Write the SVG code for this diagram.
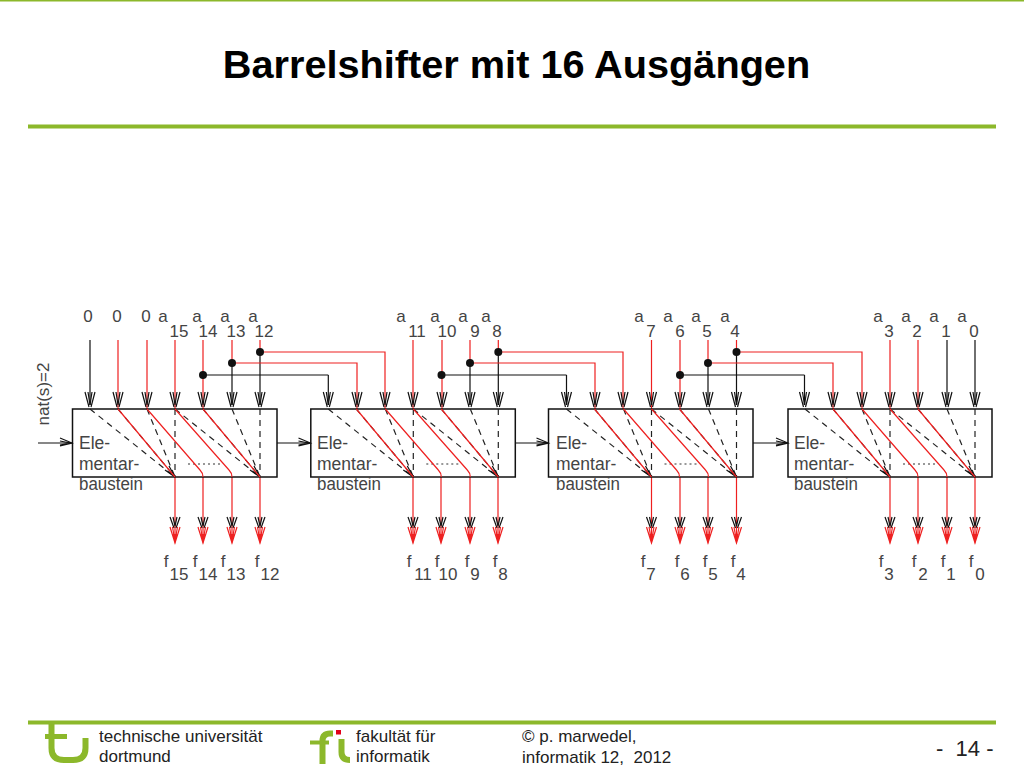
<svg xmlns="http://www.w3.org/2000/svg" width="1024" height="768" viewBox="0 0 1024 768">
<style>
text{font-family:"Liberation Sans",Arial,sans-serif}
.t{font-size:17px;fill:#444}
.m{text-anchor:middle}
.b{font-size:17.5px;fill:#444}
.fo{font-size:17px;fill:#222}
.box{fill:none;stroke:#111;stroke-width:1.5}
.r{fill:none;stroke:#ee2020;stroke-width:1.2}
.k{fill:none;stroke:#111;stroke-width:1.2}
.d{fill:none;stroke:#222;stroke-width:1.2;stroke-dasharray:6 5}
.o{fill:none;stroke:#333;stroke-width:1.2;stroke-dasharray:2 3}
.g{fill:none;stroke:#8cb82b}
</style>
<defs>
<g id="inK"><path class="k" d="M-5,392 L-1,407 M5,392 L1,407 M-2,392 L0,405 L2,392"/></g>
<g id="out"><path class="k" d="M-5,517 L-1,528 M5,517 L1,528 M-2,517 L0,526 L2,517"/><path class="r" d="M-5,527 L0,543 L5,527 M-2.500,527 L0,541 L2.500,527"/><path d="M-2,534 L0,544 L2,534z" fill="#ee2020"/></g>
<g id="hin"><path class="k" d="M-12,438 L0,443 L-12,446 M-12,441 L-2,443 L-12,445"/></g>
<g id="core">
<path class="d" d="M90,409 L175,477 M118,409 L175,477 M147,409 L175,477 M175,409 V477 M175,409 L260,477 M203,409 L260,477 M232,409 L260,477 M260,409 V477"/>
<path class="o" d="M188,464 H220"/>
<path class="k" d="M165,470 L175,477 L169,466 M250,470 L260,477 L254,466"/>
<path class="r" d="M118,409 L175,477 M147,409 L200,470 Q203,473 203,477 M175,409 L229,470 Q232,473 232,477 M203,409 L260,477"/>
</g>
</defs>

<rect x="0" y="0" width="1024" height="1.5" fill="#8cb82b"/>
<text x="516.5" y="78" text-anchor="middle" font-size="39.700" font-weight="bold" fill="#000">Barrelshifter mit 16 Ausgängen</text>
<rect x="28" y="124.500" width="968" height="4" fill="#8cb82b"/>

<g id="connectors">
<path class="k" d="M90,340 V405 M328.300,375 V405 M566.500,375 V405 M804.500,375 V405 M947,340 V405 M975,340 V405"/>
<path class="r" d="M118,340 V409 M147,340 V409 M175,340 V409 M203,340 V409 M232,340 V363 M260,340 V352"/>
<path class="r" d="M413,340 V409 M442,340 V409 M470,340 V363 M498.300,340 V352"/>
<path class="r" d="M651.500,340 V409 M680,340 V409 M708,340 V363 M736.500,340 V352"/>
<path class="r" d="M890,340 V409 M918,340 V409"/>
<path class="k" d="M232,363 V405 M260,352 V405 M470,363 V405 M498.300,352 V405 M708,363 V405 M736.500,352 V405"/>
<path class="r" d="M260,352 H385 V409 M232,363 H357 V409"/>
<path class="r" d="M498.300,352 H623 V409 M470,363 H595 V409"/>
<path class="r" d="M736.500,352 H862 V409 M708,363 H833 V409"/>
<path class="k" d="M203,375 H328.300 M442,375 H566.500 M680,375 H804.500"/>
<g fill="#111">
<circle cx="260" cy="352" r="4"/><circle cx="232" cy="363" r="4"/><circle cx="203" cy="375" r="4"/>
<circle cx="498.300" cy="352" r="4"/><circle cx="470" cy="363" r="4"/><circle cx="441.500" cy="375" r="4"/>
<circle cx="736.500" cy="352" r="4"/><circle cx="708" cy="363" r="4"/><circle cx="680" cy="375" r="4"/>
</g>
<use href="#inK" x="90"/><use href="#inK" x="118"/><use href="#inK" x="147"/><use href="#inK" x="175"/><use href="#inK" x="203"/><use href="#inK" x="232"/><use href="#inK" x="260"/>
<use href="#inK" x="328.300"/><use href="#inK" x="357"/><use href="#inK" x="385"/><use href="#inK" x="413"/><use href="#inK" x="442"/><use href="#inK" x="470"/><use href="#inK" x="498.300"/>
<use href="#inK" x="566.500"/><use href="#inK" x="595"/><use href="#inK" x="623"/><use href="#inK" x="651.500"/><use href="#inK" x="680"/><use href="#inK" x="708"/><use href="#inK" x="736.500"/>
<use href="#inK" x="804.500"/><use href="#inK" x="833"/><use href="#inK" x="862"/><use href="#inK" x="890"/><use href="#inK" x="918"/><use href="#inK" x="947"/><use href="#inK" x="975"/>
<path class="r" d="M175,477 V541 M203,477 V541 M232,477 V541 M260,477 V541 M413,477 V541 M441,477 V541 M470,477 V541 M498,477 V541 M651.500,477 V541 M680,477 V541 M708,477 V541 M736.500,477 V541 M890,477 V541 M918,477 V541 M947,477 V541 M975,477 V541"/>
<use href="#out" x="175"/><use href="#out" x="203"/><use href="#out" x="232"/><use href="#out" x="260"/>
<use href="#out" x="413"/><use href="#out" x="441"/><use href="#out" x="470"/><use href="#out" x="498"/>
<use href="#out" x="651.500"/><use href="#out" x="680"/><use href="#out" x="708"/><use href="#out" x="736.500"/>
<use href="#out" x="890"/><use href="#out" x="918"/><use href="#out" x="947"/><use href="#out" x="975"/>
<path class="k" d="M38,443 H72 M277,443 H310.500 M515,443 H548.500 M753,443 H788"/>
<use href="#hin" x="72"/><use href="#hin" x="310.500"/><use href="#hin" x="548.500"/><use href="#hin" x="788"/>
</g>

<text class="t" transform="translate(49,425.500) rotate(-90)" textLength="63" lengthAdjust="spacingAndGlyphs">nat(s)=2</text>

<g id="block1">
<rect class="box" x="72.500" y="409" width="204.500" height="68"/>
<use href="#core"/>
<text class="b" x="79" y="449">Ele-</text><text class="b" x="79" y="470">mentar-</text><text class="b" x="79" y="490" textLength="64" lengthAdjust="spacingAndGlyphs">baustein</text>
<text class="t m" x="88" y="322">0</text><text class="t m" x="117" y="322">0</text><text class="t m" x="146" y="322">0</text>
<text class="t m" x="163" y="322">a</text><text class="t m" x="179" y="337">15</text><text class="t m" x="197" y="322">a</text><text class="t m" x="208" y="337">14</text><text class="t m" x="225" y="322">a</text><text class="t m" x="236" y="337">13</text><text class="t m" x="253" y="322">a</text><text class="t m" x="264" y="337">12</text>
<text class="t m" x="166" y="567">f</text><text class="t m" x="179" y="580">15</text><text class="t m" x="195" y="567">f</text><text class="t m" x="208" y="580">14</text><text class="t m" x="223" y="567">f</text><text class="t m" x="236" y="580">13</text><text class="t m" x="257" y="567">f</text><text class="t m" x="270" y="580">12</text>
</g>

<g id="block2">
<rect class="box" x="310.800" y="409" width="204.500" height="68"/>
<use href="#core" x="238.300"/>
<text class="b" x="317" y="449">Ele-</text><text class="b" x="317" y="470">mentar-</text><text class="b" x="317" y="490" textLength="64" lengthAdjust="spacingAndGlyphs">baustein</text>
<text class="t m" x="401" y="322">a</text><text class="t m" x="417" y="337">11</text><text class="t m" x="435" y="322">a</text><text class="t m" x="447" y="337">10</text><text class="t m" x="463" y="322">a</text><text class="t m" x="475" y="337">9</text><text class="t m" x="486" y="322">a</text><text class="t m" x="497" y="337">8</text>
<text class="t m" x="409" y="567">f</text><text class="t m" x="423" y="580">11</text><text class="t m" x="437" y="567">f</text><text class="t m" x="448" y="580">10</text><text class="t m" x="467" y="567">f</text><text class="t m" x="475" y="580">9</text><text class="t m" x="495" y="567">f</text><text class="t m" x="503" y="580">8</text>
</g>

<g id="block3">
<rect class="box" x="548.500" y="409" width="204.500" height="68"/>
<use href="#core" x="476.500"/>
<text class="b" x="556" y="449">Ele-</text><text class="b" x="556" y="470">mentar-</text><text class="b" x="556" y="490" textLength="64" lengthAdjust="spacingAndGlyphs">baustein</text>
<text class="t m" x="639" y="322">a</text><text class="t m" x="651" y="337">7</text><text class="t m" x="668" y="322">a</text><text class="t m" x="680" y="337">6</text><text class="t m" x="696" y="322">a</text><text class="t m" x="707" y="337">5</text><text class="t m" x="725" y="322">a</text><text class="t m" x="735" y="337">4</text>
<text class="t m" x="643" y="567">f</text><text class="t m" x="651" y="580">7</text><text class="t m" x="677" y="567">f</text><text class="t m" x="685" y="580">6</text><text class="t m" x="705" y="567">f</text><text class="t m" x="713" y="580">5</text><text class="t m" x="733" y="567">f</text><text class="t m" x="741" y="580">4</text>
</g>

<g id="block4">
<rect class="box" x="788" y="409" width="204" height="68"/>
<use href="#core" x="715"/>
<text class="b" x="794" y="449">Ele-</text><text class="b" x="794" y="470">mentar-</text><text class="b" x="794" y="490" textLength="64" lengthAdjust="spacingAndGlyphs">baustein</text>
<text class="t m" x="878" y="322">a</text><text class="t m" x="889" y="337">3</text><text class="t m" x="906" y="322">a</text><text class="t m" x="917" y="337">2</text><text class="t m" x="934" y="322">a</text><text class="t m" x="946" y="337">1</text><text class="t m" x="962" y="322">a</text><text class="t m" x="974" y="337">0</text>
<text class="t m" x="881" y="567">f</text><text class="t m" x="889" y="580">3</text><text class="t m" x="914" y="567">f</text><text class="t m" x="923" y="580">2</text><text class="t m" x="943" y="567">f</text><text class="t m" x="951" y="580">1</text><text class="t m" x="971" y="567">f</text><text class="t m" x="980" y="580">0</text>
</g>

<rect x="28" y="720.500" width="968" height="4" fill="#8cb82b"/>
<path class="g" stroke-width="6" d="M51.500,724 V748 Q51.500,760 64,760 H73 Q85.500,760 85.500,748 V738"/>
<path class="g" stroke-width="5" d="M45,736.500 H67"/>
<path class="g" stroke-width="6" d="M322.500,764 V741 Q322.500,733.500 330,733.500 H333"/>
<path class="g" stroke-width="4" d="M310,742.500 H329"/>
<path class="g" stroke-width="6" d="M341.500,739 V752 Q341.500,760 350,760"/>
<rect x="336" y="730" width="5" height="4.500" fill="#e2001a"/>
<text class="fo" x="99" y="742">technische universität</text>
<text class="fo" x="99" y="762">dortmund</text>
<text class="fo" x="356" y="742">fakultät für</text>
<text class="fo" x="356" y="762">informatik</text>
<text class="fo" x="522" y="742">© p. marwedel,</text>
<text class="fo" x="522" y="763" xml:space="preserve">informatik 12,  2012</text>
<text x="936" y="756" font-size="22" fill="#222" xml:space="preserve">-  14 -</text>
</svg>
